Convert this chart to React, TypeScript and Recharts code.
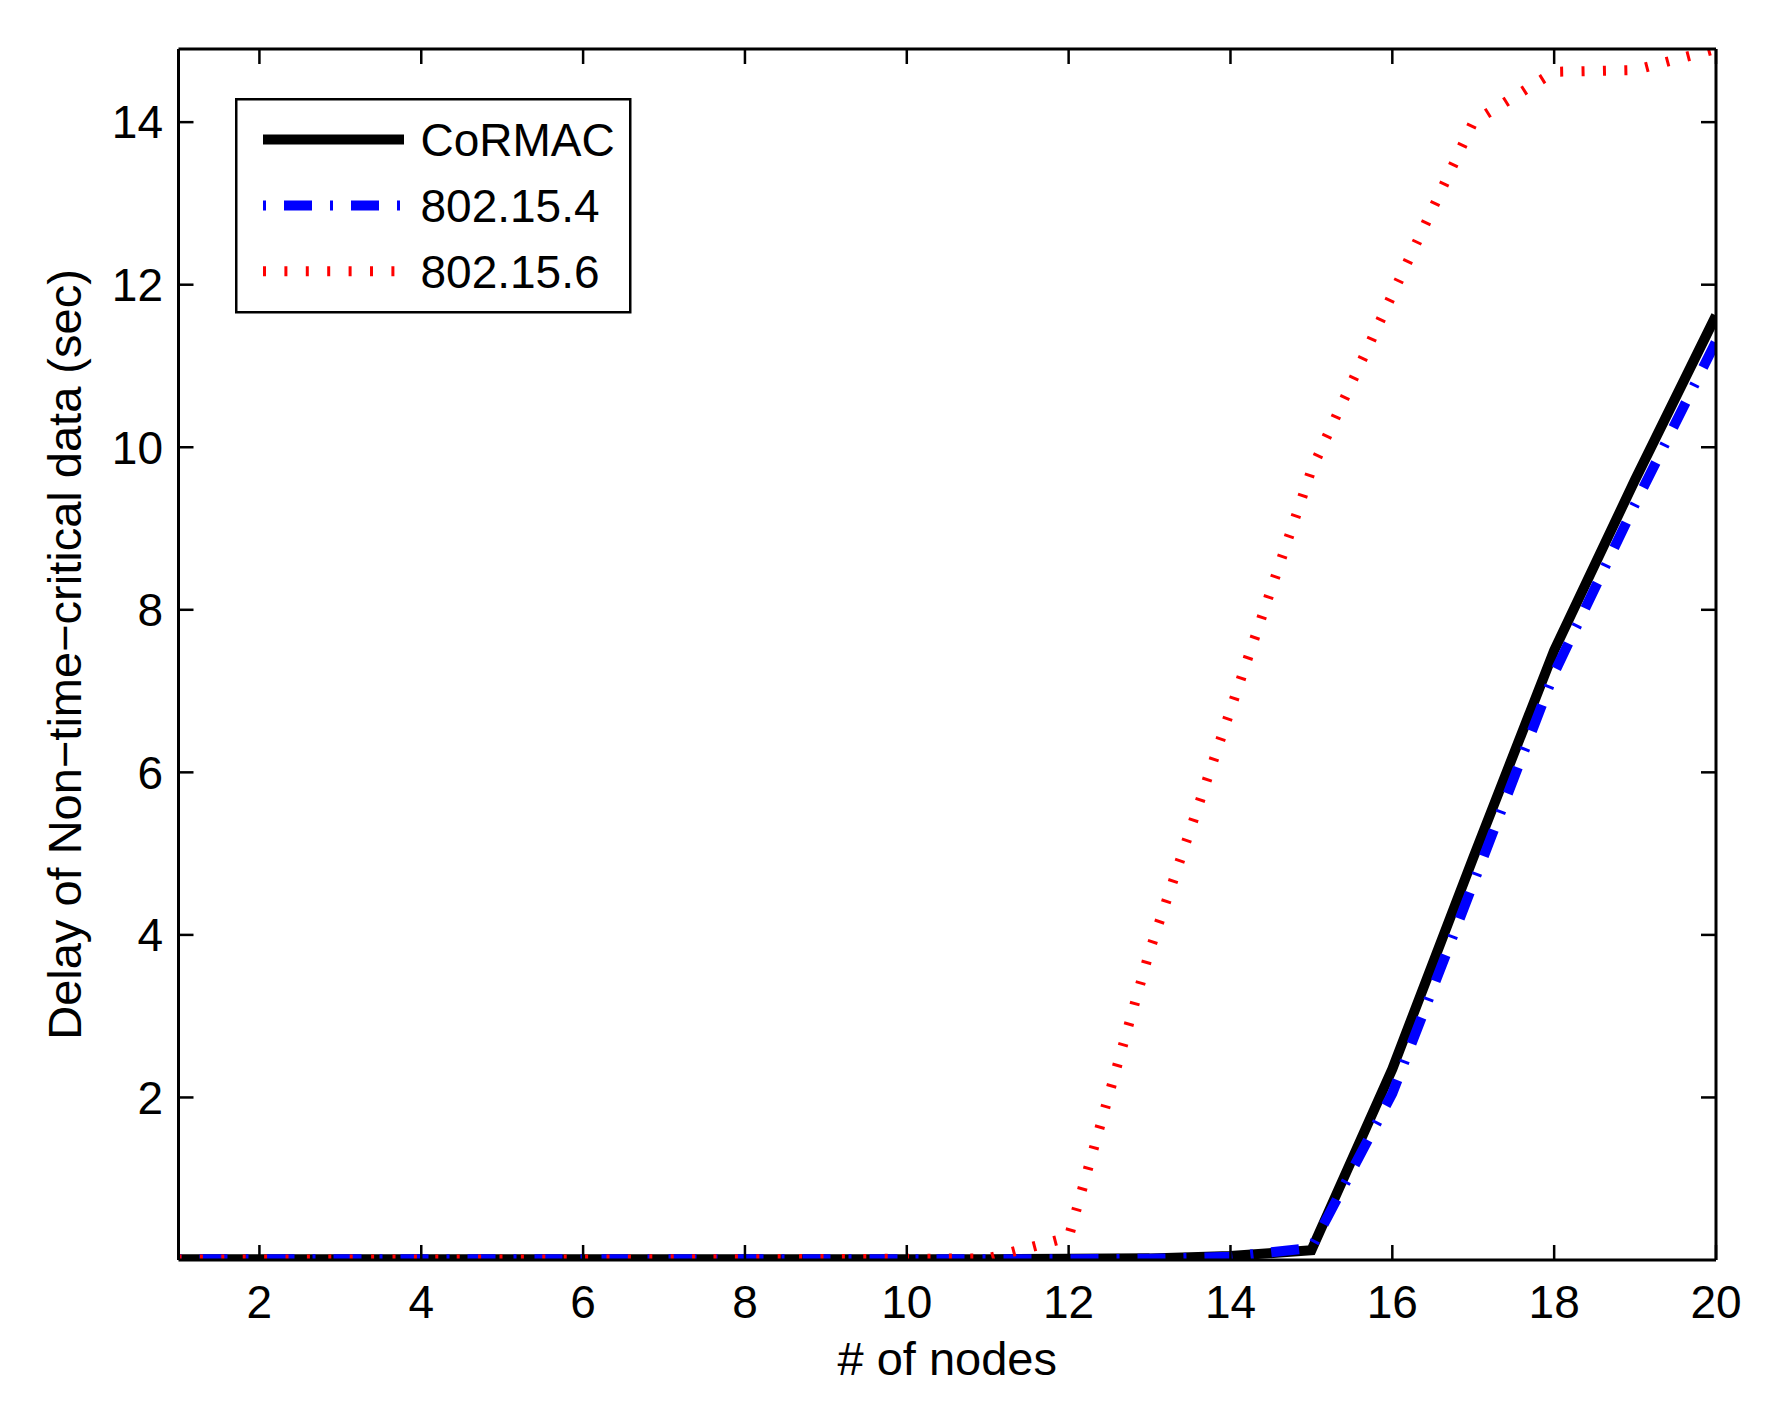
import React from "react";
import { LineChart, Line, XAxis, YAxis, Legend, Label } from "recharts";

// # of nodes
const nodes = [1, 2, 3, 4, 5, 6, 7, 8, 9, 10, 11, 12, 13, 14, 15, 16, 17, 18, 19, 20];

// delay (sec)
const cormac = [0.01, 0.01, 0.01, 0.01, 0.01, 0.01, 0.01, 0.01, 0.01, 0.01, 0.01, 0.015, 0.02, 0.05, 0.12, 2.35, 4.95, 7.5, 9.6, 11.62];
const ieee154 = [0.01, 0.01, 0.01, 0.01, 0.01, 0.01, 0.01, 0.01, 0.01, 0.01, 0.01, 0.01, 0.015, 0.04, 0.15, 2.05, 4.63, 7.22, 9.3, 11.3];
const ieee156 = [0.005, 0.005, 0.005, 0.005, 0.006, 0.007, 0.008, 0.01, 0.012, 0.015, 0.02, 0.28, 3.8, 6.77, 9.72, 11.88, 14.0, 14.62, 14.64, 14.9];

const xTicks = [2, 4, 6, 8, 10, 12, 14, 16, 18, 20];
const yTicks = [2, 4, 6, 8, 10, 12, 14];

const series = [
  { key: "cormac", name: "CoRMAC", color: "#000000", dash: undefined as string | undefined },
  { key: "ieee154", name: "802.15.4", color: "#0000ff", dash: "3 18 28 18" },
  { key: "ieee156", name: "802.15.6", color: "#ff0000", dash: "3 18.4" },
];

const data = nodes.map((n, i) => ({
  x: n,
  cormac: cormac[i],
  ieee154: ieee154[i],
  ieee156: ieee156[i],
}));

const FONT = '"Liberation Sans", Arial, Helvetica, sans-serif';
const tickStyle = { fontSize: 46, fill: "#000", fontFamily: FONT };
const axisLine = { stroke: "#000", strokeWidth: 3 };
const tickLine = { stroke: "#000", strokeWidth: 2.5 };

function LegendBox() {
  return (
    <svg width={397} height={216} style={{ display: "block" }}>
      <rect x={1.25} y={1.25} width={394} height={213} fill="#fff" stroke="#000" strokeWidth={2.5} />
      {series.map((s, i) => {
        const cy = 41.6 + i * 65.8;
        return (
          <g key={s.key}>
            <line x1={28} x2={169} y1={cy} y2={cy} stroke={s.color} strokeWidth={10} strokeDasharray={s.dash} />
            <text x={185.5} y={cy + 16.7} fontSize={46} fontFamily={FONT} fill="#000">
              {s.name}
            </text>
          </g>
        );
      })}
    </svg>
  );
}

export default function App() {
  return (
    <div style={{ width: 1780, height: 1427, background: "#fff" }}>
      <style>{`body{margin:0;}`}</style>
      <LineChart
        width={1780}
        height={1427}
        data={data}
        margin={{ top: 39, right: 54, bottom: 107, left: 78.5 }}
      >
        <XAxis
          xAxisId="b"
          dataKey="x"
          type="number"
          domain={[1, 20]}
          ticks={xTicks}
          allowDataOverflow
          height={60}
          tickSize={-15}
          tickMargin={40}
          tick={tickStyle}
          axisLine={axisLine}
          tickLine={tickLine}
        >
          <Label
            content={(props: any) => {
              const vb = props.viewBox || {};
              return (
                <text x={vb.x + vb.width / 2} y={vb.y + 115} textAnchor="middle" fontSize={47} fontFamily={FONT} fill="#000">
                  # of nodes
                </text>
              );
            }}
          />
        </XAxis>
        <XAxis
          xAxisId="t"
          orientation="top"
          dataKey="x"
          type="number"
          domain={[1, 20]}
          ticks={xTicks}
          allowDataOverflow
          height={10}
          tickSize={-15}
          tickFormatter={() => ""}
          axisLine={axisLine}
          tickLine={tickLine}
        />
        <YAxis
          yAxisId="l"
          type="number"
          domain={[0, 14.9]}
          ticks={yTicks}
          allowDataOverflow
          width={100}
          tickSize={-15}
          tickMargin={30.5}
          tick={tickStyle}
          axisLine={axisLine}
          tickLine={tickLine}
        >
          <Label
            content={(props: any) => {
              const vb = props.viewBox || {};
              const cx = vb.x + vb.width - 97.5;
              const cy = vb.y + vb.height / 2;
              return (
                <text
                  x={cx}
                  y={cy}
                  transform={`rotate(-90, ${cx}, ${cy})`}
                  textAnchor="middle"
                  fontSize={47}
                  fontFamily={FONT}
                  fill="#000"
                >
                  Delay of Non−time−critical data (sec)
                </text>
              );
            }}
          />
        </YAxis>
        <YAxis
          yAxisId="r"
          orientation="right"
          type="number"
          domain={[0, 14.9]}
          ticks={yTicks}
          allowDataOverflow
          width={10}
          tickSize={-15}
          tickFormatter={() => ""}
          axisLine={axisLine}
          tickLine={tickLine}
        />
        <Legend
          layout="horizontal"
          verticalAlign="middle"
          align="center"
          width={397}
          height={216}
          wrapperStyle={{ left: 235, top: 97.7, width: 397, height: 216 }}
          content={() => <LegendBox />}
        />
        {series.map((s) => (
          <Line
            key={s.key}
            xAxisId="b"
            yAxisId="l"
            type="linear"
            dataKey={s.key}
            name={s.name}
            stroke={s.color}
            strokeWidth={10}
            strokeDasharray={s.dash}
            dot={false}
            activeDot={false}
            isAnimationActive={false}
          />
        ))}
      </LineChart>
    </div>
  );
}
